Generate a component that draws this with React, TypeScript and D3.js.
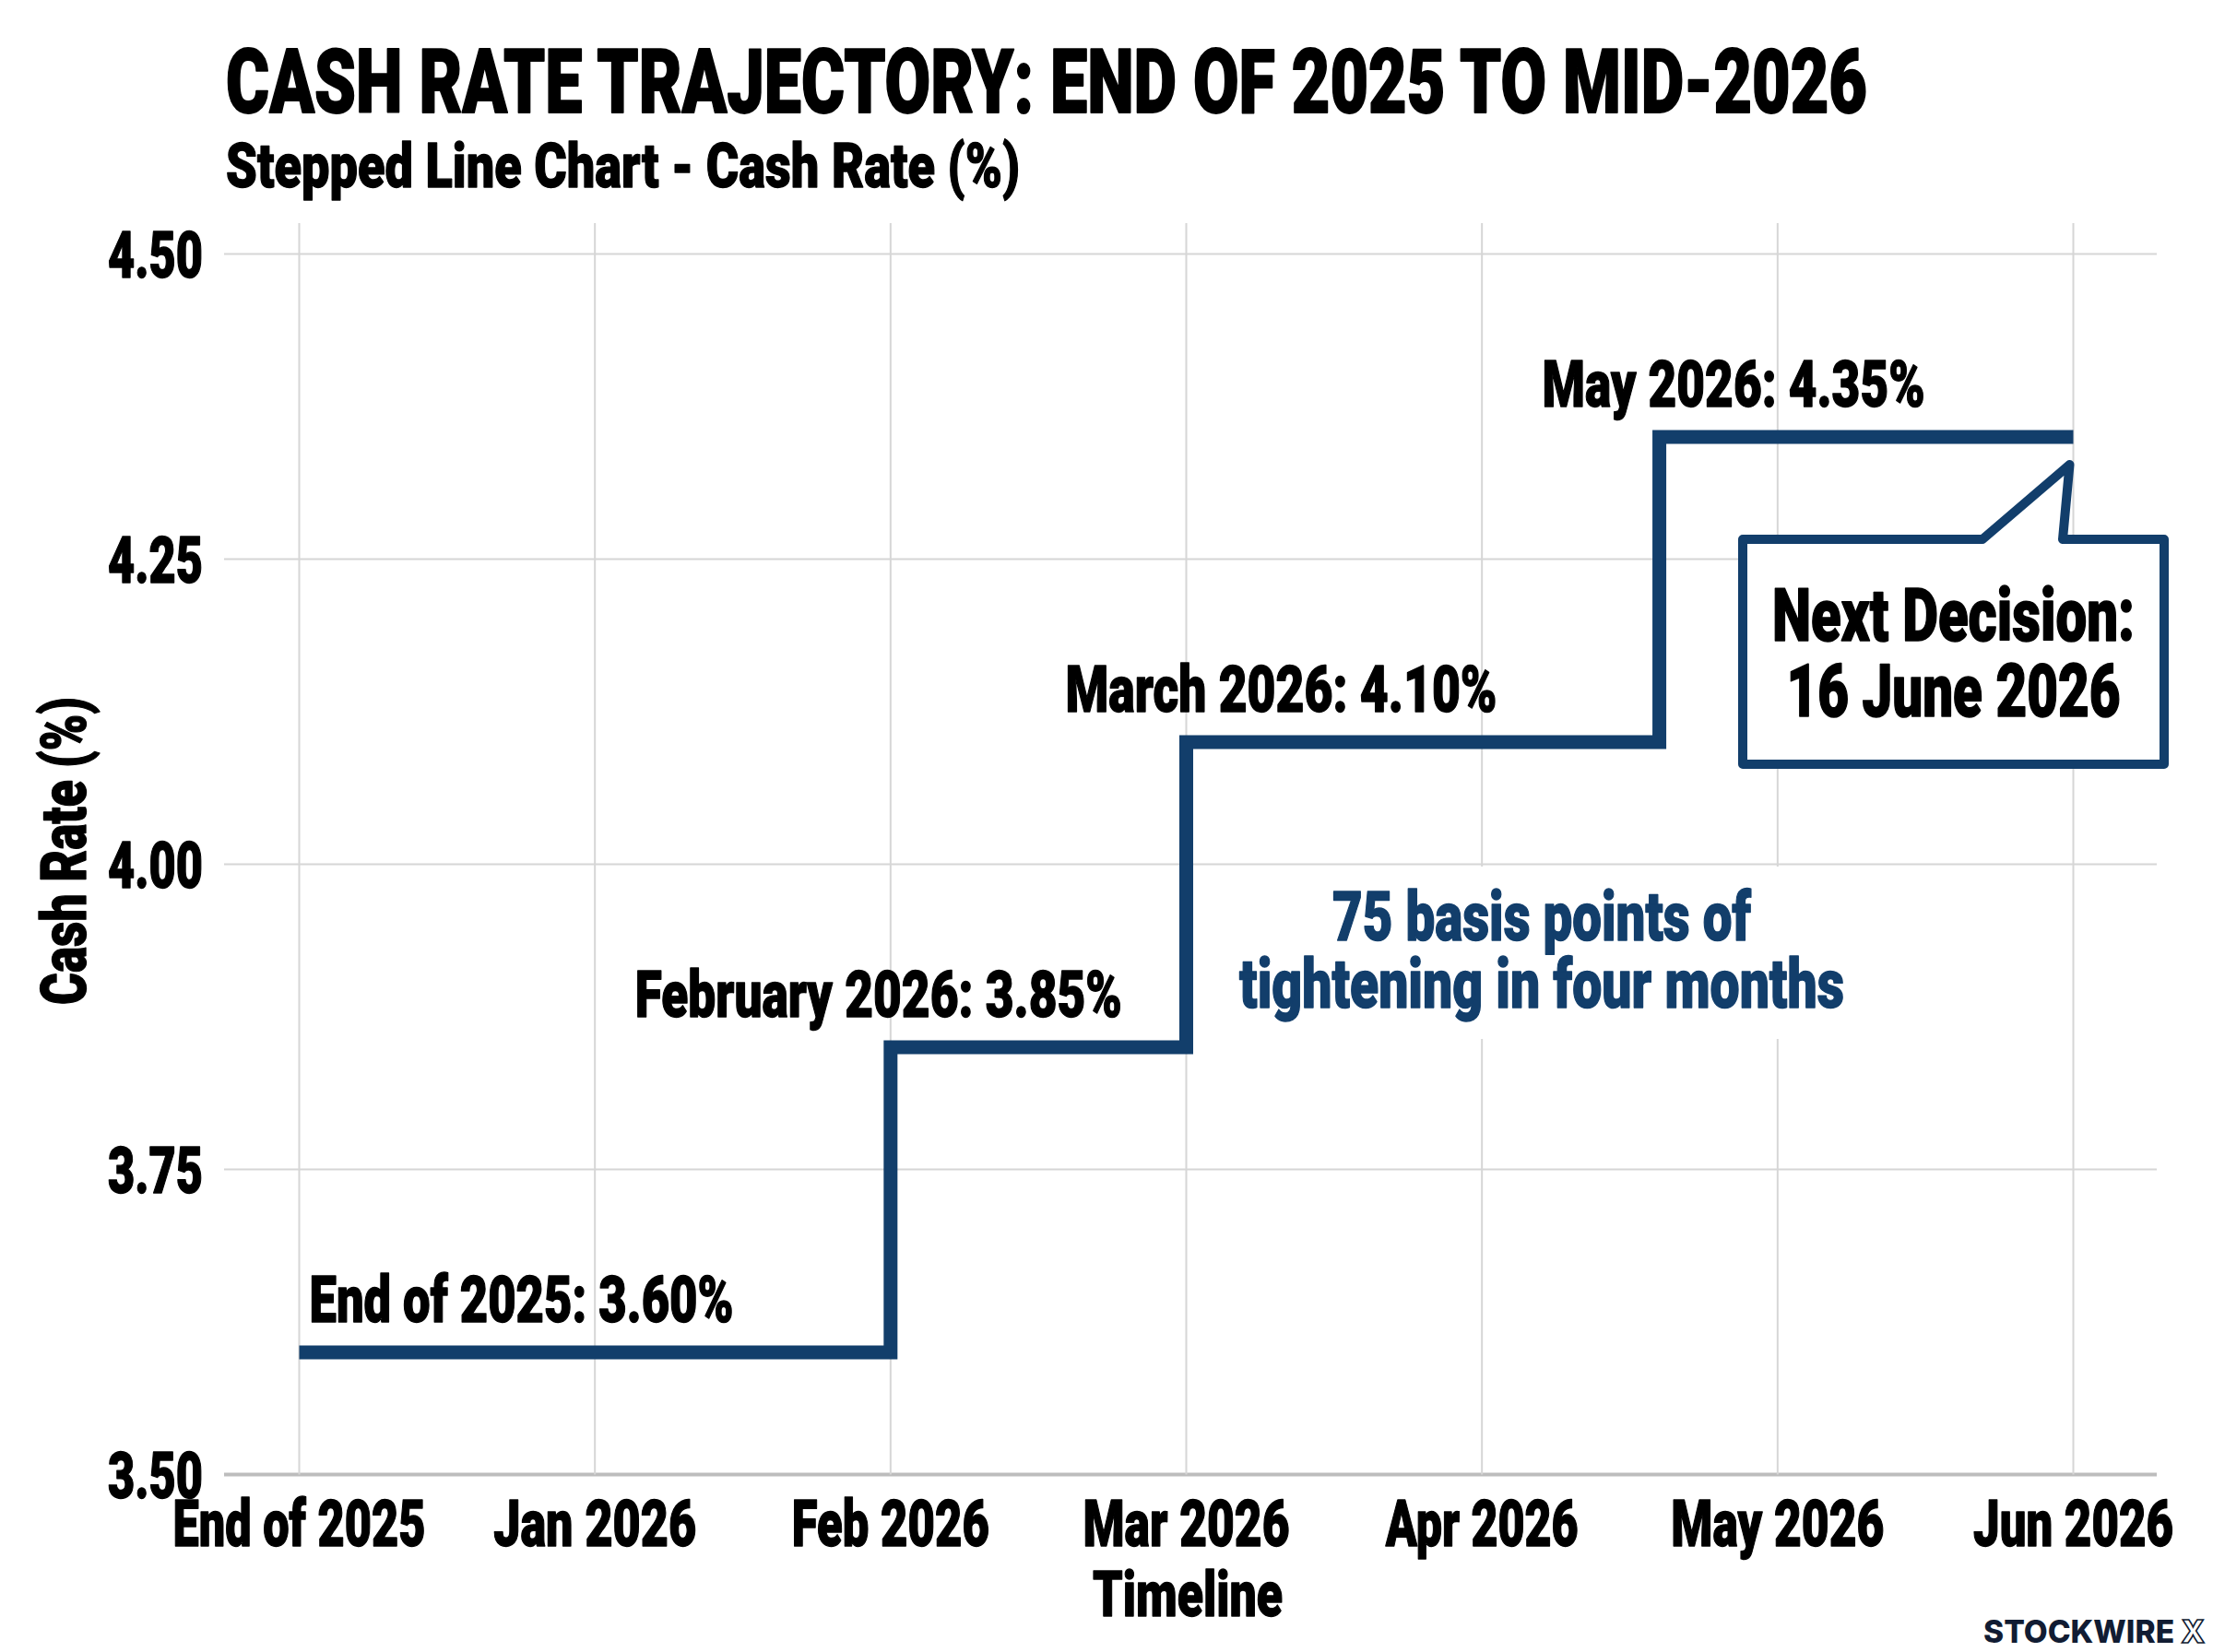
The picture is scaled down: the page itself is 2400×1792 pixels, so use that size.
import React from "react";
import * as d3 from "d3";

const W = 2400;
const H = 1792;

// Month axis categories (index positions along the timeline)
const tickLabels = ["End of 2025", "Jan 2026", "Feb 2026", "Mar 2026", "Apr 2026", "May 2026", "Jun 2026"];
const yTicks = [3.5, 3.75, 4.0, 4.25, 4.5];

// Rate changes: where each step starts on the month axis, and the new cash rate
const stepPos = [0, 2, 3, 4.6];
const stepRate = [3.6, 3.85, 4.1, 4.35];
const stepLabels = ["End of 2025: 3.60%", "February 2026: 3.85%", "March 2026: 4.10%", "May 2026: 4.35%"];
const seriesEnd = 6; // the rate is held through to Jun 2026

const titleText = "CASH RATE TRAJECTORY: END OF 2025 TO MID-2026";
const subtitleText = "Stepped Line Chart - Cash Rate (%)";
const xTitle = "Timeline";
const yTitle = "Cash Rate (%)";
const noteLines = ["75 basis points of", "tightening in four months"];
const calloutLines = ["Next Decision:", "16 June 2026"];

const NAVY = "#123e6b";
const FONT = "Roboto, 'Liberation Sans Narrow', 'DejaVu Sans Condensed', sans-serif";

type TProps = {
  x: number;
  y: number;
  w: number;
  size: number;
  anchor?: "start" | "middle" | "end";
  fill?: string;
  transform?: string;
  children: React.ReactNode;
};

// Heavy condensed text, squeezed to a fixed advance width
function T({ x, y, w, size, anchor = "start", fill = "#000", transform, children }: TProps) {
  return (
    <text
      x={x}
      y={y}
      textAnchor={anchor}
      fontFamily={FONT}
      fontWeight={900}
      fontSize={size}
      fill={fill}
      stroke={fill}
      strokeWidth={size * 0.02}
      strokeLinejoin="round"
      textLength={w}
      lengthAdjust="spacingAndGlyphs"
      transform={transform}
    >
      {children}
    </text>
  );
}

export default function App() {
  const plotLeft = 243;
  const plotRight = 2339;
  const plotTop = 242;

  const x = d3.scaleLinear().domain([0, tickLabels.length - 1]).range([324.5, 2248.5]);
  const y = d3.scaleLinear().domain([3.5, 4.5]).range([1599.5, 275.5]);

  const pts: [number, number][] = stepPos.map((p, i) => [p, stepRate[i]]);
  pts.push([seriesEnd, stepRate[stepRate.length - 1]]);
  const line = d3
    .line<[number, number]>()
    .x((d) => x(d[0]))
    .y((d) => y(d[1]))
    .curve(d3.curveStepAfter);

  const xTickWidths = [274, 220, 214, 224, 209, 231, 217];
  const labelLayout = [
    { dx: 11, w: 460 },
    { dx: -277, w: 528 },
    { dx: -131, w: 468 },
    { dx: -127, w: 415 },
  ];

  // callout bubble anchored below the end of the series
  const tipX = x(seriesEnd) - 4;
  const tipY = y(stepRate[stepRate.length - 1]) + 30;
  const bx0 = 1890;
  const bx1 = 2347;
  const by0 = 585;
  const by1 = 829;
  const callout = `M${bx0},${by0} H2150 L${tipX},${tipY} L2237,${by0} H${bx1} V${by1} H${bx0} Z`;

  return (
    <svg
      width={W}
      height={H}
      viewBox={`0 0 ${W} ${H}`}
      style={{ position: "absolute", left: 0, top: 0, background: "#fff" }}
    >
      <rect x={0} y={0} width={W} height={H} fill="#fff" />

      {/* titles */}
      <T x={245} y={122} w={1780} size={96}>
        {titleText}
      </T>
      <T x={245} y={203} w={861} size={67}>
        {subtitleText}
      </T>

      {/* grid */}
      {yTicks.map((t) => (
        <line
          key={"h" + t}
          x1={plotLeft}
          x2={plotRight}
          y1={y(t)}
          y2={y(t)}
          stroke={t === 3.5 ? "#bdbdbd" : "#d6d6d6"}
          strokeWidth={t === 3.5 ? 4 : 2}
        />
      ))}
      {tickLabels.map((_, i) => (
        <line key={"v" + i} x1={x(i)} x2={x(i)} y1={plotTop} y2={y(3.5)} stroke="#d6d6d6" strokeWidth={2} />
      ))}

      {/* note backing panel */}
      <rect x={1330} y={940} width={685} height={187} fill="#fff" />

      {/* cash rate step line */}
      <path d={line(pts) || ""} fill="none" stroke={NAVY} strokeWidth={15} strokeLinejoin="miter" strokeLinecap="butt" />

      {/* step labels */}
      {stepLabels.map((s, i) => (
        <T key={s} x={x(stepPos[i]) + labelLayout[i].dx} y={y(stepRate[i]) - 33} w={labelLayout[i].w} size={70}>
          {s}
        </T>
      ))}

      {/* y axis */}
      {yTicks.map((t) => (
        <T key={"yl" + t} x={220} y={y(t) + 25} w={103} size={70} anchor="end">
          {d3.format(".2f")(t)}
        </T>
      ))}
      <T x={0} y={0} w={334} size={68} anchor="middle" transform="translate(93,923) rotate(-90)">
        {yTitle}
      </T>

      {/* x axis */}
      {tickLabels.map((s, i) => (
        <T key={"xl" + i} x={x(i)} y={1677} w={xTickWidths[i]} size={70} anchor="middle">
          {s}
        </T>
      ))}
      <T x={1288} y={1753} w={206} size={68} anchor="middle">
        {xTitle}
      </T>

      {/* note */}
      <T x={1672} y={1020} w={454} size={75} anchor="middle" fill={NAVY}>
        {noteLines[0]}
      </T>
      <T x={1672} y={1093} w={656} size={75} anchor="middle" fill={NAVY}>
        {noteLines[1]}
      </T>

      {/* next decision callout */}
      <path d={callout} fill="#fff" stroke={NAVY} strokeWidth={10} strokeLinejoin="round" />
      <T x={(bx0 + bx1) / 2} y={695} w={393} size={80} anchor="middle">
        {calloutLines[0]}
      </T>
      <T x={(bx0 + bx1) / 2} y={777} w={362} size={80} anchor="middle">
        {calloutLines[1]}
      </T>

      {/* brand mark */}
      <text x={2151} y={1782} fontFamily="Inter, 'Open Sans', sans-serif" fontWeight={800} fontSize={34} fill="#111c33" textLength={240} lengthAdjust="spacingAndGlyphs">
        STOCKWIRE{" "}
        <tspan fill="#fff" stroke="#111c33" strokeWidth={1.6}>
          X
        </tspan>
      </text>
    </svg>
  );
}
